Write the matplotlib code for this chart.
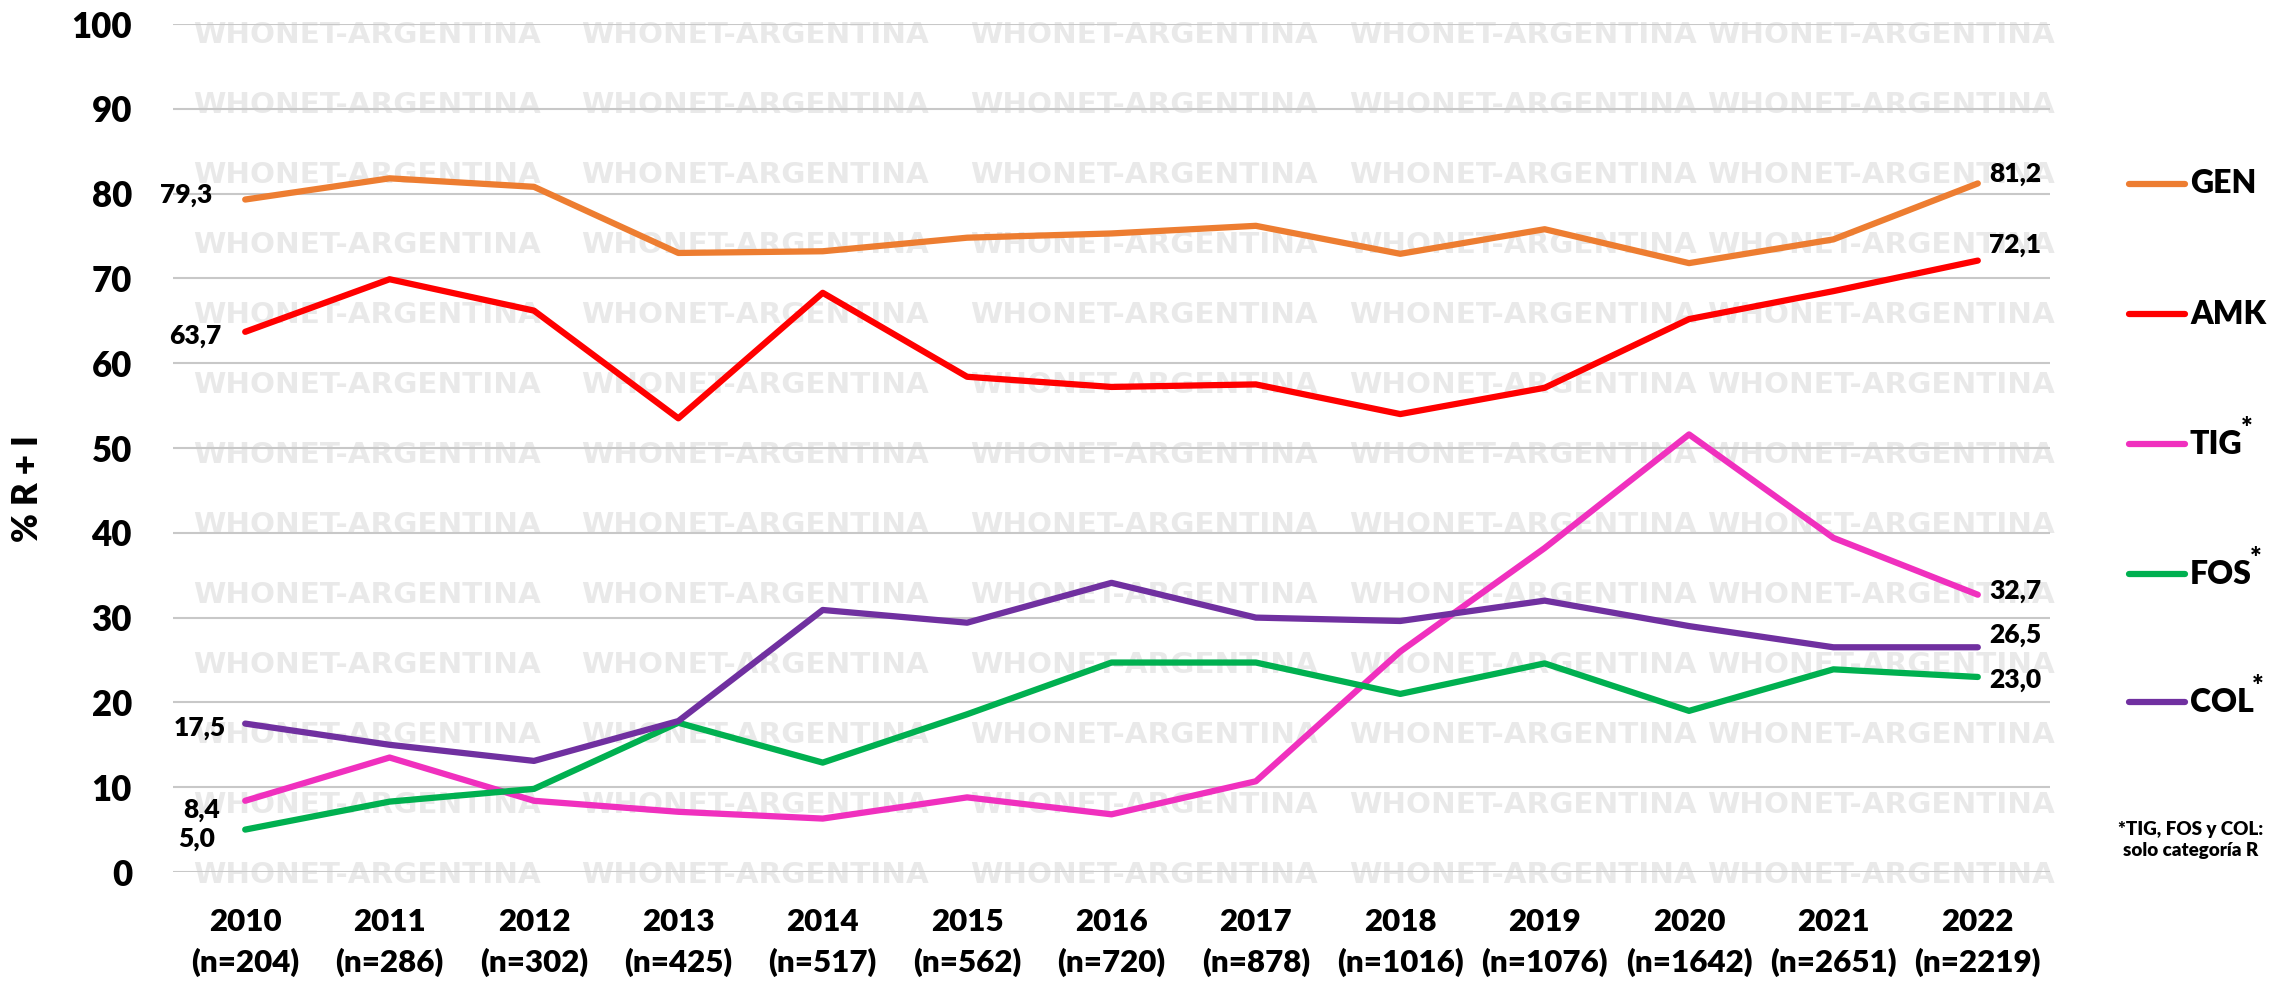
import matplotlib
matplotlib.use('Agg')
import matplotlib.pyplot as plt
from matplotlib.lines import Line2D

plt.rcParams['font.family'] = ['Lato', 'DejaVu Sans']
plt.rcParams['font.weight'] = 'heavy'

# ---------------------------------------------------------------- data
years = ['2010', '2011', '2012', '2013', '2014', '2015', '2016',
         '2017', '2018', '2019', '2020', '2021', '2022']
n_isol = [204, 286, 302, 425, 517, 562, 720, 878, 1016, 1076, 1642, 2651, 2219]

gen = [79.3, 81.8, 80.8, 73.0, 73.2, 74.8, 75.3, 76.2, 72.9, 75.8, 71.8, 74.6, 81.2]
amk = [63.7, 69.9, 66.2, 53.5, 68.3, 58.4, 57.2, 57.5, 54.0, 57.1, 65.2, 68.5, 72.1]
tig = [8.4, 13.5, 8.4, 7.1, 6.3, 8.8, 6.8, 10.7, 26.0, 38.2, 51.6, 39.4, 32.7]
fos = [5.0, 8.3, 9.8, 17.6, 12.9, 18.6, 24.7, 24.7, 21.0, 24.6, 19.0, 23.9, 23.0]
col = [17.5, 15.0, 13.1, 17.8, 30.9, 29.4, 34.1, 30.0, 29.6, 32.0, 29.0, 26.5, 26.5]

series_names = ['GEN', 'AMK', 'TIG', 'FOS', 'COL']
series_vals = [gen, amk, tig, fos, col]
series_colors = ['#ED7D31', '#FF0000', '#F030BE', '#00B050', '#7030A0']
series_star = [False, False, True, True, True]

# label offsets in points (first point, last point)
first_off = [(-24, 3), (-17, -3), (-18, -7), (-22, -7), (-14, -3)]
last_off = [(8, 7), (8, 11), (8, 3), (8, -2), (8, 9)]

# ---------------------------------------------------------------- figure
W, H = 2281, 986
fig = plt.figure(figsize=(W / 100, H / 100), dpi=100)
fig.patch.set_facecolor('white')
ax = fig.add_axes([173 / W, 1 - 872 / H, (2050 - 173) / W, (872 - 24) / H])
ax.patch.set_alpha(0)

# watermark tiles
for k in range(13):
    yy = 35 + 70 * k
    for xx in [193, 581, 970, 1349, 1707]:
        fig.text(xx / W, 1 - yy / H, 'WHONET-ARGENTINA', ha='left', va='center',
                 color='#e9e9e9', fontsize=21.2, fontweight='bold',
                 family='DejaVu Sans', zorder=-1)

x = list(range(len(years)))
for vals, c in zip(series_vals, series_colors):
    ax.plot(x, vals, color=c, lw=4.5, solid_capstyle='round',
            solid_joinstyle='round', zorder=3)

for vals, fo, lo in zip(series_vals, first_off, last_off):
    ax.annotate(f"{vals[0]:.1f}".replace('.', ','), xy=(0, vals[0]), xytext=fo,
                textcoords='offset points', ha='right', va='center', fontsize=19)
    ax.annotate(f"{vals[-1]:.1f}".replace('.', ','), xy=(x[-1], vals[-1]), xytext=lo,
                textcoords='offset points', ha='left', va='center', fontsize=19)

ax.set_xlim(-0.5, len(years) - 0.5)
ax.set_ylim(0, 100)
ax.set_yticks(range(0, 101, 10))
ax.set_xticks(x)
ax.set_xticklabels([f"{y}\n(n={n})" for y, n in zip(years, n_isol)],
                   fontsize=22.5, linespacing=1.5)
ax.tick_params(axis='x', length=0, pad=26)
ax.tick_params(axis='y', length=0, pad=29.5, labelsize=25)
ax.yaxis.grid(True, color='#c8c8c8', lw=1.5)
ax.set_axisbelow(True)
for s in ax.spines.values():
    s.set_visible(False)

fig.text(28 / W, 1 - 489 / H, '% R + I', rotation=90, ha='center', va='center',
         fontsize=25)

# legend
renderer = fig.canvas.get_renderer()
leg_y = [184, 314, 444, 574, 702]
for name, c, star, yy in zip(series_names, series_colors, series_star, leg_y):
    fy = 1 - yy / H
    fig.add_artist(Line2D([2129 / W, 2185 / W], [fy, fy], transform=fig.transFigure,
                          color=c, lw=4.5, solid_capstyle='round'))
    t = fig.text(2190 / W, fy, name, ha='left', va='center', fontsize=23)
    if star:
        bb = t.get_window_extent(renderer)
        fig.text((bb.x1 - 2) / W, (bb.y1 - 12) / H, '*', ha='left', va='bottom',
                 fontsize=20)

fig.text(2191 / W, 1 - 840 / H, '*TIG, FOS y COL:\nsolo categoría R', ha='center',
         va='center', fontsize=13.5, linespacing=1.35)

fig.savefig('out.png', dpi=100)
